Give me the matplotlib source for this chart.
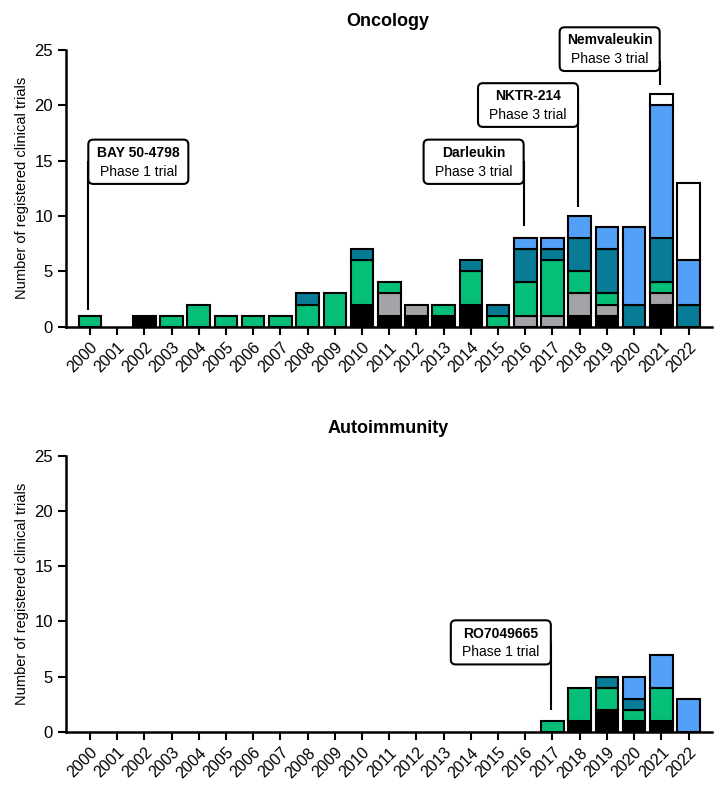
import numpy as np
import matplotlib
matplotlib.use('Agg')
import matplotlib.pyplot as plt
from matplotlib.patches import FancyBboxPatch

plt.rcParams['font.family'] = ['Liberation Sans', 'DejaVu Sans']

YEARS = [str(y) for y in range(2000, 2023)]

# oncology trials per year, stacked bottom to top
ONC_BLACK = [0, 0, 1, 0, 0, 0, 0, 0, 0, 0, 2, 1, 1, 1, 2, 0, 0, 0, 1, 1, 0, 2, 0]
ONC_GRAY = [0, 0, 0, 0, 0, 0, 0, 0, 0, 0, 0, 2, 1, 0, 0, 0, 1, 1, 2, 1, 0, 1, 0]
ONC_GREEN = [1, 0, 0, 1, 2, 1, 1, 1, 2, 3, 4, 1, 0, 1, 3, 1, 3, 5, 2, 1, 0, 1, 0]
ONC_TEAL = [0, 0, 0, 0, 0, 0, 0, 0, 1, 0, 1, 0, 0, 0, 1, 1, 3, 1, 3, 4, 2, 4, 2]
ONC_BLUE = [0, 0, 0, 0, 0, 0, 0, 0, 0, 0, 0, 0, 0, 0, 0, 0, 1, 1, 2, 2, 7, 12, 4]
ONC_WHITE = [0, 0, 0, 0, 0, 0, 0, 0, 0, 0, 0, 0, 0, 0, 0, 0, 0, 0, 0, 0, 0, 1, 7]

# autoimmunity trials per year
AUTO_BLACK = [0] * 18 + [1, 2, 1, 1, 0]
AUTO_GRAY = [0] * 23
AUTO_GREEN = [0] * 17 + [1, 3, 2, 1, 3, 0]
AUTO_TEAL = [0] * 19 + [1, 1, 0, 0]
AUTO_BLUE = [0] * 20 + [2, 3, 3]
AUTO_WHITE = [0] * 23

COLORS = ['#000000', '#a4a4a8', '#05bf78', '#087b96', '#52a0f8', '#ffffff']

# callouts: (name, phase, year, box bottom, box top, line top, line end, side of the line)
ONC_NOTES = [
    ('BAY 50-4798', 'Phase 1 trial', '2000', 12.9, 16.9, 15.0, 1.5, 'left'),
    ('Darleukin', 'Phase 3 trial', '2016', 12.9, 16.9, 15.0, 9.1, 'right'),
    ('NKTR-214', 'Phase 3 trial', '2018', 18.05, 22.0, 20.0, 10.8, 'right'),
    ('Nemvaleukin', 'Phase 3 trial', '2021', 23.1, 27.05, 24.0, 21.8, 'right'),
]
AUTO_NOTES = [
    ('RO7049665', 'Phase 1 trial', '2017', 6.1, 10.1, 8.0, 2.0, 'right'),
]

PX_X = 27.2   # pixels per bar slot
PX_Y = 11.07  # pixels per trial


def stacked(ax, series):
    x = np.arange(len(YEARS))
    bottom = np.zeros(len(YEARS))
    for vals, col in zip(series, COLORS):
        vals = np.array(vals, dtype=float)
        m = vals > 0
        ax.bar(x[m], vals[m], bottom=bottom[m], width=0.83, color=col,
               edgecolor='black', linewidth=1.5, zorder=3)
        bottom += vals


def callout(ax, note):
    name, phase, year, y0, y1, ytop, yend, side = note
    xi = YEARS.index(year) - 0.06
    w = 100 / PX_X
    x0 = xi if side == 'left' else xi - w
    ax.plot([xi, xi], [ytop, yend], color='black', lw=1.5, zorder=2,
            clip_on=False, solid_capstyle='butt')
    box = FancyBboxPatch((x0, y0), w, y1 - y0,
                         boxstyle='round,pad=0,rounding_size=0.18',
                         mutation_aspect=PX_X / PX_Y,
                         facecolor='white', edgecolor='black', lw=1.5,
                         zorder=4, clip_on=False)
    ax.add_patch(box)
    xc = x0 + w / 2
    ax.text(xc, y0 + (y1 - y0) * 0.70, name, ha='center', va='center',
            fontsize=10, fontweight='bold', zorder=5, clip_on=False)
    ax.text(xc, y0 + (y1 - y0) * 0.28, phase, ha='center', va='center',
            fontsize=10, zorder=5, clip_on=False)


fig = plt.figure(figsize=(7.22, 7.92), dpi=100)
ax1 = fig.add_axes([0.0914, 0.5875, 0.8950, 0.3494])
ax2 = fig.add_axes([0.0914, 0.0761, 0.8950, 0.3482])

panels = [
    (ax1, [ONC_BLACK, ONC_GRAY, ONC_GREEN, ONC_TEAL, ONC_BLUE, ONC_WHITE], ONC_NOTES),
    (ax2, [AUTO_BLACK, AUTO_GRAY, AUTO_GREEN, AUTO_TEAL, AUTO_BLUE, AUTO_WHITE], AUTO_NOTES),
]

for ax, series, notes in panels:
    stacked(ax, series)
    for n in notes:
        callout(ax, n)
    ax.set_xlim(-0.88, 22.87)
    ax.set_ylim(0, 25)
    ax.set_yticks([0, 5, 10, 15, 20, 25])
    ax.set_xticks(np.arange(len(YEARS)))
    ax.set_xticklabels(YEARS, rotation=45, ha='right', rotation_mode='anchor',
                       fontsize=11.5)
    ax.tick_params(axis='y', labelsize=12, width=1.5, length=6)
    ax.tick_params(axis='x', width=1.5, length=6)
    for s in ['top', 'right']:
        ax.spines[s].set_visible(False)
    for s in ['left', 'bottom']:
        ax.spines[s].set_linewidth(1.8)
    ax.set_ylabel('Number of registered clinical trials', fontsize=10.5)

# panel titles
fig.text(388 / 722, 1 - 22 / 792, 'Oncology', ha='center', va='center',
         fontsize=13, fontweight='bold')
fig.text(388 / 722, 1 - 429 / 792, 'Autoimmunity', ha='center', va='center',
         fontsize=13, fontweight='bold')

plt.savefig('out.png', dpi=100)
plt.close()
